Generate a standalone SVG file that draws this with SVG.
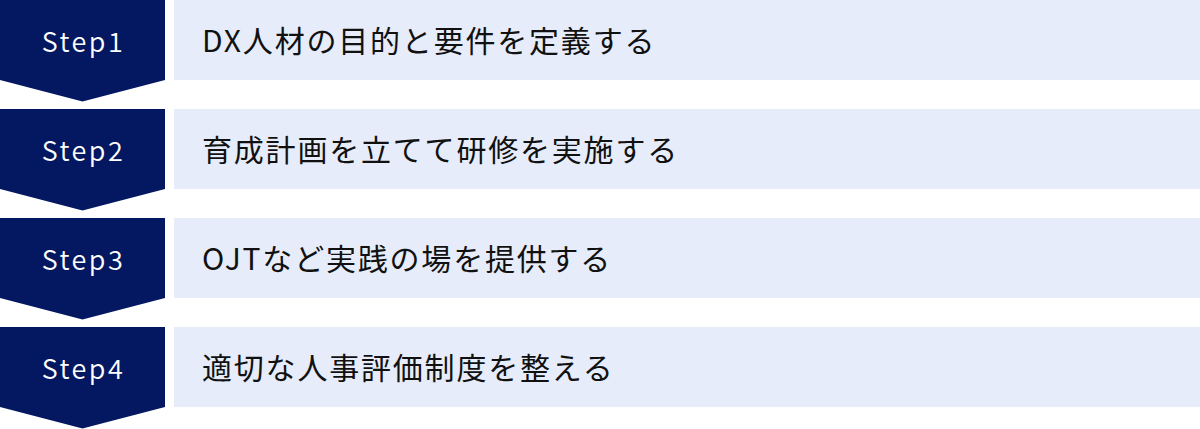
<svg xmlns="http://www.w3.org/2000/svg" width="1200" height="429" viewBox="0 0 1200 429">
<style>
.chev{fill:#041861}
.bar{fill:#E6ECF9}
.step{font-family:"Noto Sans CJK JP","Noto Sans",sans-serif;font-size:27px;font-weight:350;fill:#ffffff;letter-spacing:2.5px;text-anchor:middle}
.lbl{font-family:"Noto Sans CJK JP","Noto Sans",sans-serif;font-size:30px;fill:#111111;letter-spacing:1.8px}
</style>
<defs>
<polygon id="chevShape" points="0,0 165,0 165,80 82.5,101.5 0,80"/>
</defs>
<g id="step1" transform="translate(0,0)">
<use href="#chevShape" class="chev"/>
<rect class="bar" x="174" y="0" width="1026" height="80"/>
<text class="step" x="83.5" y="52">Step1</text>
<text class="lbl" x="202" y="51.5">DX人材の目的と要件を定義する</text>
</g>
<g id="step2" transform="translate(0,109)">
<use href="#chevShape" class="chev"/>
<rect class="bar" x="174" y="0" width="1026" height="80"/>
<text class="step" x="83.5" y="52">Step2</text>
<text class="lbl" x="202" y="51.5">育成計画を立てて研修を実施する</text>
</g>
<g id="step3" transform="translate(0,218)">
<use href="#chevShape" class="chev"/>
<rect class="bar" x="174" y="0" width="1026" height="80"/>
<text class="step" x="83.5" y="52">Step3</text>
<text class="lbl" x="202" y="51.5">OJTなど実践の場を提供する</text>
</g>
<g id="step4" transform="translate(0,327)">
<use href="#chevShape" class="chev"/>
<rect class="bar" x="174" y="0" width="1026" height="80"/>
<text class="step" x="83.5" y="52">Step4</text>
<text class="lbl" x="202" y="51.5">適切な人事評価制度を整える</text>
</g>
<g id="connectors"></g>
</svg>
